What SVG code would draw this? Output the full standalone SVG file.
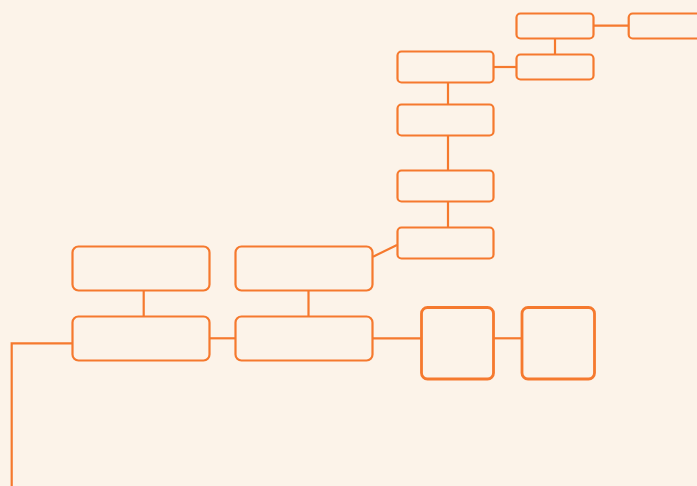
<svg xmlns="http://www.w3.org/2000/svg" width="697" height="486" viewBox="0 0 697 486">
<style>
.n{fill:none;stroke:#F5792E;stroke-width:2.2}
.b{fill:none;stroke:#F5792E;stroke-width:2.8}
.c{fill:none;stroke:#F5792E;stroke-width:2.2}
</style>
<rect width="697" height="486" fill="#FCF3E9"/>
<g id="connectors">
<path class="c" d="M555 39V54"/>
<path class="c" d="M594 25.7H629"/>
<path class="c" d="M494 67H516"/>
<path class="c" d="M448 83V104"/>
<path class="c" d="M448 136V170"/>
<path class="c" d="M448 201V228"/>
<path class="c" d="M373 256.7L397 245"/>
<path class="c" d="M143.7 291V316"/>
<path class="c" d="M308.5 291V316"/>
<path class="c" d="M210 338.3H235"/>
<path class="c" d="M373 338.3H421"/>
<path class="c" d="M494 338.3H522"/>
<path class="c" d="M72 343.3H11.7V486"/>
</g>
<g id="nodeA"><rect class="n" x="516.5" y="13.5" width="77" height="25" rx="4"/></g>
<g id="nodeB"><rect class="n" x="628.7" y="13.5" width="80" height="25" rx="4"/></g>
<g id="nodeC"><rect class="n" x="516.5" y="54.5" width="77" height="25" rx="4"/></g>
<g id="nodeD"><rect class="n" x="397.5" y="51.5" width="96" height="31" rx="4"/></g>
<g id="nodeE"><rect class="n" x="397.5" y="104.5" width="96" height="31" rx="4"/></g>
<g id="nodeF"><rect class="n" x="397.5" y="170.5" width="96" height="31" rx="4"/></g>
<g id="nodeG"><rect class="n" x="397.5" y="227.5" width="96" height="31" rx="4"/></g>
<g id="nodeH"><rect class="n" x="72.5" y="246.5" width="137" height="44" rx="6"/></g>
<g id="nodeI"><rect class="n" x="72.5" y="316.5" width="137" height="44" rx="6"/></g>
<g id="nodeJ"><rect class="n" x="235.5" y="246.5" width="137" height="44" rx="6"/></g>
<g id="nodeK"><rect class="n" x="235.5" y="316.5" width="137" height="44" rx="6"/></g>
<g id="nodeL"><rect class="b" x="421.5" y="307.5" width="72" height="71.5" rx="6"/></g>
<g id="nodeM"><rect class="b" x="522" y="307.5" width="72.5" height="71.5" rx="6"/></g>
</svg>
